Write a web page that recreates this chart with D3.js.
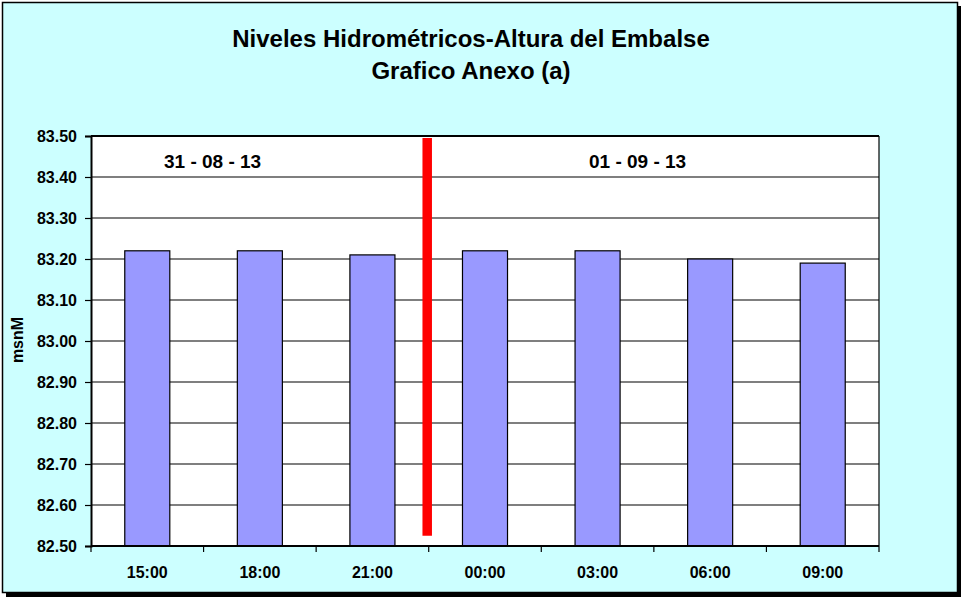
<!DOCTYPE html>
<html><head><meta charset="utf-8">
<script src="https://cdn.jsdelivr.net/npm/d3@7"></script>
<style>body{margin:0;background:#fff}svg{display:block}text{font-family:Arial,"Liberation Sans",sans-serif;font-weight:bold;fill:#000}</style>
</head><body><svg id="c" width="962" height="598"></svg>
<script>
const categories = ["15:00","18:00","21:00","00:00","03:00","06:00","09:00"];
const values = [83.22,83.22,83.21,83.22,83.22,83.20,83.19];
const yTicks = [82.5,82.6,82.7,82.8,82.9,83.0,83.1,83.2,83.3,83.4,83.5];
const dateLabels = ["31 - 08 - 13","01 - 09 - 13"];
const dividerAfter = "21:00";
const dividerRange = [82.525, 83.495];
const titleLines = ["Niveles Hidrométricos-Altura del Embalse","Grafico Anexo (a)"];
const yTitle = "msnM";

const svg = d3.select("#c");
const L=91,T=136,R=879,B=546;
// outer box with shadow
svg.append("rect").attr("x",6).attr("y",6).attr("width",955).attr("height",591).attr("fill","#000");
svg.append("rect").attr("x",2.5).attr("y",2.5).attr("width",955).attr("height",590).attr("fill","#CCFFFF").attr("stroke","#000").attr("stroke-width",1.5);

const x = d3.scaleBand().domain(categories).range([L,R]).paddingInner(0.6).paddingOuter(0.3);
const y = d3.scaleLinear().domain([82.5,83.5]).range([B,T]);

svg.append("rect").attr("x",L).attr("y",T).attr("width",R-L).attr("height",B-T).attr("fill","#fff");

// gridlines
svg.append("g").selectAll("line").data(yTicks.slice(1,-1)).join("line")
  .attr("x1",L).attr("x2",R).attr("y1",d=>y(d)).attr("y2",d=>y(d)).attr("stroke","#000").attr("stroke-width",1.2);

// bars
svg.append("g").selectAll("rect").data(values).join("rect")
  .attr("x",(d,i)=>x(categories[i])).attr("width",x.bandwidth())
  .attr("y",d=>y(d)).attr("height",d=>B-y(d))
  .attr("fill","#9999FF").attr("stroke","#000").attr("stroke-width",1.2);

// plot border top/right
svg.append("line").attr("x1",L).attr("x2",R).attr("y1",T).attr("y2",T).attr("stroke","#000").attr("stroke-width",2);
svg.append("line").attr("x1",R).attr("x2",R).attr("y1",T).attr("y2",B).attr("stroke","#000").attr("stroke-width",1.2);

// y axis
const yAxis = d3.axisLeft(y).tickValues(yTicks).tickFormat(d3.format(".2f")).tickSize(6).tickPadding(8);
const gy = svg.append("g").attr("transform",`translate(${L},0)`).call(yAxis);
gy.select(".domain").attr("stroke","#000").attr("stroke-width",2);
gy.selectAll(".tick line").attr("stroke","#000").attr("stroke-width",1.2);
gy.selectAll("text").style("font-size","16px").style("font-family","Arial, 'Liberation Sans', sans-serif").attr("dy","0.36em");

// x axis with ticks at band boundaries
const gx = svg.append("g").attr("transform",`translate(0,${B})`);
gx.append("line").attr("x1",L).attr("x2",R).attr("stroke","#000").attr("stroke-width",2);
const step = x.step();
const bounds = d3.range(categories.length+1).map(i=>L+i*step);
gx.selectAll("line.t").data(bounds).join("line").attr("class","t")
  .attr("x1",d=>d).attr("x2",d=>d).attr("y1",0).attr("y2",6).attr("stroke","#000").attr("stroke-width",1.2);
gx.selectAll("text").data(categories).join("text")
  .attr("x",d=>x(d)+x.bandwidth()/2).attr("y",32).attr("text-anchor","middle").style("font-size","16px").text(d=>d);

// divider
const xd = L + (categories.indexOf(dividerAfter)+1)*step - 1.5;
svg.append("line").attr("x1",xd).attr("x2",xd).attr("y1",y(dividerRange[1])).attr("y2",y(dividerRange[0]))
  .attr("stroke","#FF0000").attr("stroke-width",9.5);

// date labels
const dateX = [x(categories[0]) + x.step()*0.78, x(categories[4]) + x.bandwidth()/2 + 40];
svg.selectAll("text.date").data(dateLabels).join("text").attr("class","date")
  .attr("x",(d,i)=>dateX[i])
  .attr("y",168).attr("text-anchor","middle").style("font-size","19px").text(d=>d);

// title
svg.selectAll("text.title").data(titleLines).join("text").attr("class","title")
  .attr("x",471).attr("y",(d,i)=>47+i*32).attr("text-anchor","middle").style("font-size","24px").text(d=>d);

// y title
svg.append("text").attr("transform","translate(23,340) rotate(-90)").attr("text-anchor","middle").style("font-size","16px").text(yTitle);
</script></body></html>
